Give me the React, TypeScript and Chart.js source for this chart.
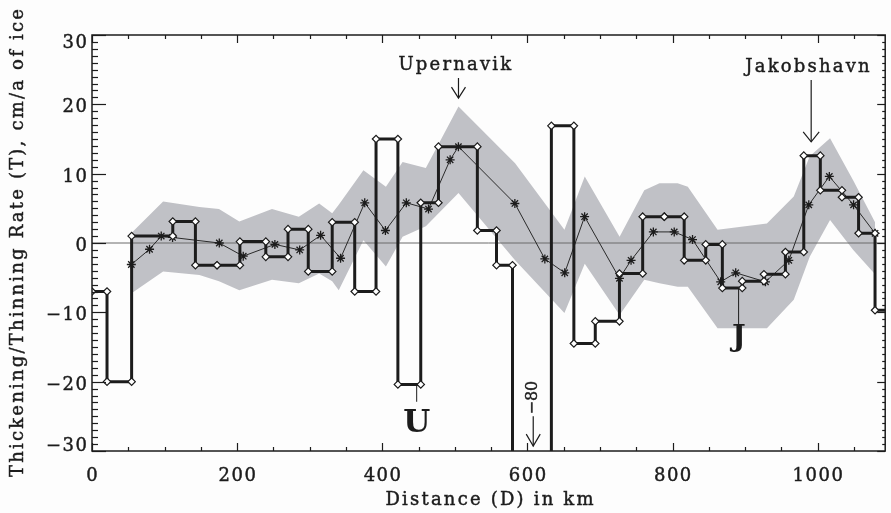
import React, { useEffect, useRef } from 'react';
import { Chart, registerables } from 'chart.js';

Chart.register(...registerables);

// ---- axes ----
const X_MIN = 0;
const X_MAX = 1093;
const Y_MIN = -30;
const Y_MAX = 30;
const X_MAJOR = 200;
const X_MINOR = 50;
const Y_MAJOR = 10;
const Y_MINOR = 1;
const xTickValues = [0, 200, 400, 600, 800, 1000];
const yTickValues = [-30, -20, -10, 0, 10, 20, 30];

// ---- step series (segment edges in km, value per segment) ----
const stepEdges = [0, 20.7, 54.6, 111.3, 142.5, 172.3, 203.8, 239.5, 270.1, 298, 331, 362, 391.4, 421.5, 453, 477.4, 531, 557.4, 579.4, 633, 664, 693.5, 726.8, 758.8, 788.6, 816, 845.7, 868.6, 896, 925.9, 955.5, 980.8, 1003.6, 1033.4, 1056.3, 1079, 1100];
const stepValues = [-7, -20, 1, 3.1, -3.2, -3.2, 0.2, -2, 2, -4.1, 3, -7, 15, -20.4, 5.8, 13.9, 1.8, -3.2, -80, 16.9, -14.5, -11.3, -4.4, 3.8, 3.8, -2.5, -0.2, -6.5, -5.5, -4.5, -1.3, 12.6, 7.6, 6.6, 1.4, -9.7];

// ---- smoothed series (stars) ----
const starX = [54.2, 79.3, 95.4, 111, 175.4, 208.4, 252, 286.2, 315, 342.5, 375.8, 404.3, 433.1, 463.7, 493.5, 504.9, 582.7, 624, 651.4, 678.8, 726.8, 742.8, 773.5, 802.3, 827.5, 866.3, 887, 928, 960.2, 987.7, 1016, 1049.4, 1079];
const starY = [-3.1, -0.9, 1.0, 0.8, 0.0, -1.9, -0.2, -1.0, 1.1, -2.2, 5.8, 1.8, 5.8, 4.9, 12.0, 13.9, 5.7, -2.3, -4.3, 3.8, -5.1, -2.5, 1.6, 1.6, 0.5, -5.6, -4.3, -5.6, -2.5, 5.5, 9.6, 5.5, 1.4];

// ---- uncertainty band ----
const bandX = [54, 98, 148, 175, 203, 248, 285, 313, 331, 340, 374, 405, 428, 460, 505, 583, 651, 679, 727, 761, 782, 807, 821, 862, 930, 967, 989, 1017, 1049, 1079];
const bandUpper = [1.4, 6.0, 5.2, 4.9, 3.1, 4.9, 3.8, 5.7, 4.3, 5.5, 10.5, 8.1, 11.7, 10.8, 19.7, 11.5, 1.9, 9.6, 0.9, 7.6, 8.6, 8.6, 8.1, 1.9, 2.8, 6.7, 12.5, 15.1, 9.0, 3.0];
const bandLower = [-7.3, -4.1, -4.6, -5.5, -6.8, -5.3, -5.8, -4.4, -5.5, -6.8, 0.4, -3.4, 0.9, 2.4, 7.2, -2.5, -10.1, -3.0, -10.4, -5.3, -5.8, -6.3, -6.3, -12.3, -12.3, -8.2, -2.0, 3.3, -1.0, -4.5];

// ---- texts ----
const xTitle = 'Distance (D) in km';
const yTitle = 'Thickening/Thinning Rate (T), cm/a of ice';
const labelUpernavik = 'Upernavik';
const labelJakobshavn = 'Jakobshavn';
const labelU = 'U';
const labelJ = 'J';
const labelOff = '\u221280';

const FONT = '"DejaVu Serif", serif';
const INK = '#1c1c1c';
const BAND = 'rgb(192,193,198)';

const fmt = (v: number) => (v < 0 ? '\u2212' + Math.abs(v) : String(v));

const decorPlugin = {
  id: 'decor',
  afterDatasetsDraw(chart: any) {
    const { ctx, chartArea: a, scales } = chart;
    const xs = scales.x;
    const ys = scales.y;
    const X = (v: number) => xs.getPixelForValue(v);
    const Y = (v: number) => ys.getPixelForValue(v);
    const seg = (x1: number, y1: number, x2: number, y2: number) => {
      ctx.beginPath();
      ctx.moveTo(x1, y1);
      ctx.lineTo(x2, y2);
      ctx.stroke();
    };
    const arrowDown = (x: number, y1: number, y2: number, hw: number, hh: number) => {
      seg(x, y1, x, y2);
      ctx.beginPath();
      ctx.moveTo(x - hw, y2 - hh);
      ctx.lineTo(x, y2);
      ctx.lineTo(x + hw, y2 - hh);
      ctx.stroke();
    };
    const text = (s: string, x: number, y: number) => {
      ctx.fillText(s, x, y);
      ctx.save();
      ctx.lineWidth = 0.45;
      ctx.strokeText(s, x, y);
      ctx.restore();
    };
    ctx.save();
    ctx.strokeStyle = INK;
    ctx.fillStyle = INK;

    // frame
    ctx.lineWidth = 1.5;
    ctx.strokeRect(a.left, a.top, a.right - a.left, a.bottom - a.top);

    // ticks (inward)
    ctx.lineWidth = 1.2;
    for (let v = X_MIN; v <= X_MAX; v += X_MINOR) {
      const px = Math.round(X(v)) + 0.5;
      const major = v % X_MAJOR === 0;
      const len = major ? 8 : 4;
      seg(px, a.bottom, px, a.bottom - len);
      seg(px, a.top, px, a.top + len);
    }
    for (let v = Y_MIN; v <= Y_MAX; v += Y_MINOR) {
      const py = Math.round(Y(v)) + 0.5;
      const major = v % Y_MAJOR === 0;
      seg(a.left, py, a.left + (major ? 14 : 6), py);
      seg(a.right, py, a.right - (major ? 8 : 3), py);
    }

    // tick labels
    ctx.font = `18px ${FONT}`;
    (ctx as any).letterSpacing = '1.5px';
    ctx.textBaseline = 'alphabetic';
    ctx.textAlign = 'center';
    xTickValues.forEach((v) => text(fmt(v), X(v) + 0.8, 480.5));
    ctx.textAlign = 'right';
    yTickValues.forEach((v) => {
      const c = Math.min(Math.max(Y(v) + 1.5, a.top + 6), a.bottom - 7);
      text(fmt(v), 88.5, c + 6.5);
    });

    // axis titles
    (ctx as any).letterSpacing = '2.2px';
    ctx.textAlign = 'center';
    text(xTitle, (a.left + a.right) / 2 + 2, 505);
    ctx.save();
    ctx.translate(23, (a.top + a.bottom) / 2 - 1);
    ctx.rotate(-Math.PI / 2);
    text(yTitle, 0, 0);
    ctx.restore();

    // annotations
    text(labelUpernavik, X(501.5), Y(24.95));
    text(labelJakobshavn, X(987.5), Y(24.6));
    ctx.lineWidth = 1.2;
    arrowDown(X(505), Y(23.8), Y(20.9), 7, 11);
    arrowDown(X(991), Y(23.5), Y(14.6), 8, 10);

    // U and J markers
    ctx.lineWidth = 1;
    seg(X(447.4), Y(-20.4), X(447.4), Y(-22.9));
    seg(X(891), Y(-6.5), X(891), Y(-12.1));
    (ctx as any).letterSpacing = '0px';
    ctx.font = `bold 31px ${FONT}`;
    ctx.fillText(labelU, X(447.4), Y(-27.2));
    ctx.font = `bold 29px ${FONT}`;
    ctx.fillText(labelJ, X(891.5), Y(-14.8));

    // off-scale marker
    ctx.save();
    ctx.font = `16px ${FONT}`;
    ctx.translate(X(607), Y(-22.3));
    ctx.rotate(-Math.PI / 2);
    ctx.textBaseline = 'middle';
    text(labelOff, 0, 0);
    ctx.restore();
    ctx.lineWidth = 1.2;
    arrowDown(X(608), Y(-25.0), Y(-29.3), 7, 12);

    ctx.restore();
  },
};

export default function App() {
  const ref = useRef<HTMLCanvasElement | null>(null);
  useEffect(() => {
    if (!ref.current) return;
    const stepPts: { x: number; y: number }[] = [];
    stepValues.forEach((v, i) => {
      stepPts.push({ x: stepEdges[i], y: v });
      stepPts.push({ x: stepEdges[i + 1], y: v });
    });
    const starPts = starX.map((x, i) => ({ x, y: starY[i] }));
    const upperPts = bandX.map((x, i) => ({ x, y: bandUpper[i] }));
    const lowerPts = bandX.map((x, i) => ({ x, y: bandLower[i] }));
    const zeroPts = [{ x: X_MIN, y: 0 }, { x: X_MAX, y: 0 }];

    const chart = new Chart(ref.current, {
      type: 'line',
      data: {
        datasets: [
          {
            label: 'step',
            data: stepPts,
            borderColor: INK,
            borderWidth: 3,
            pointStyle: 'rectRot',
            pointRadius: 3.7,
            pointBackgroundColor: '#ffffff',
            pointBorderColor: INK,
            pointBorderWidth: 1.2,
            tension: 0,
            fill: false,
            order: 1,
          },
          {
            label: 'star',
            data: starPts,
            borderColor: '#2a2a2a',
            borderWidth: 1,
            pointStyle: 'star',
            pointRadius: 4.5,
            pointBorderColor: INK,
            pointBorderWidth: 1.3,
            tension: 0,
            fill: false,
            order: 2,
          },
          {
            label: 'zero',
            data: zeroPts,
            borderColor: '#6a6a6a',
            borderWidth: 1,
            pointRadius: 0,
            fill: false,
            order: 3,
          },
          {
            label: 'upper',
            data: upperPts,
            borderColor: 'transparent',
            borderWidth: 0,
            pointRadius: 0,
            backgroundColor: BAND,
            fill: '+1',
            order: 4,
          },
          {
            label: 'lower',
            data: lowerPts,
            borderColor: 'transparent',
            borderWidth: 0,
            pointRadius: 0,
            fill: false,
            order: 5,
          },
        ],
      },
      options: {
        animation: false,
        responsive: true,
        maintainAspectRatio: false,
        events: [],
        layout: { padding: { left: 92, right: 3, top: 35, bottom: 62 } },
        plugins: { legend: { display: false }, tooltip: { enabled: false } },
        scales: {
          x: { type: 'linear', min: X_MIN, max: X_MAX, display: false },
          y: { type: 'linear', min: Y_MIN, max: Y_MAX, display: false },
        },
      },
      plugins: [decorPlugin],
    });
    return () => chart.destroy();
  }, []);

  return (
    <div style={{ position: 'fixed', left: 0, top: 0, width: 891, height: 513, background: '#fdfdfd' }}>
      <canvas ref={ref} />
    </div>
  );
}
